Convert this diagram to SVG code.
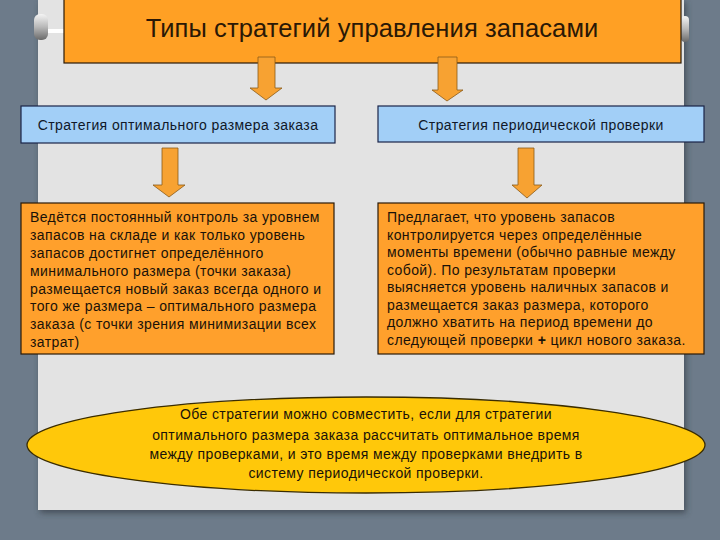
<svg xmlns="http://www.w3.org/2000/svg" width="720" height="540" viewBox="0 0 720 540">
<defs>
<style>
.t{font-family:"Liberation Sans",Arial,sans-serif;fill:#1a1208}
.title{font-size:25.5px;fill:#2a1806;letter-spacing:0.1px}
.hd{font-size:14px;fill:#101828;letter-spacing:0.4px}
.bd{font-size:14px;letter-spacing:0.4px}
.arrow{fill:#f7a232;stroke:#8a5a18;stroke-width:0.8}
.blue{fill:#a2cff7;stroke:#1a2448;stroke-width:1.2}
.orange{fill:#ffa02c;stroke:#2a1a08;stroke-width:1.2}
</style>
<linearGradient id="knob" x1="0" y1="0" x2="0" y2="1">
<stop offset="0" stop-color="#f4f4f4"/>
<stop offset="0.5" stop-color="#b8b8b8"/>
<stop offset="1" stop-color="#6a6a6a"/>
</linearGradient>
<filter id="sh" x="-5%" y="-5%" width="110%" height="110%"><feGaussianBlur stdDeviation="3"/></filter>
</defs>
<rect x="0" y="0" width="720" height="540" fill="#6d7b8a"/>
<rect x="40" y="2" width="646" height="511" fill="#2a3038" opacity="0.6" filter="url(#sh)"/>
<rect x="38" y="0" width="646" height="510" fill="#e3e3e3"/>
<rect x="34" y="14" width="14" height="26" rx="6" fill="url(#knob)"/>
<rect x="48" y="29" width="16" height="4" fill="#ffffff"/>
<rect x="681" y="16" width="8" height="26" rx="4" fill="url(#knob)"/>

<g id="title">
<rect x="64" y="-2" width="617" height="65" fill="#ffa024" stroke="#2a1a08" stroke-width="1.2"/>
<text class="t title" x="372" y="37" text-anchor="middle">Типы стратегий управления запасами</text>
</g>

<g id="connectors">
<polygon class="arrow" points="258,57 275,57 275,88 282,88 266,100 250,88 258,88"/>
<polygon class="arrow" points="438,57 457,57 457,90 463,90 447,101 432,90 438,90"/>
<polygon class="arrow" points="162,148 178,148 178,185 185,185 169,197 153,185 162,185"/>
<polygon class="arrow" points="518,148 534,148 534,185 542,185 527,198 512,185 518,185"/>
</g>

<g id="strategy-eoq">
<rect class="blue" x="21" y="106" width="314" height="37"/>
<text class="t hd" x="178" y="130" text-anchor="middle">Стратегия оптимального размера заказа</text>
</g>

<g id="strategy-periodic">
<rect class="blue" x="378" y="106" width="326" height="36"/>
<text class="t hd" x="541" y="130" text-anchor="middle">Стратегия периодической проверки</text>
</g>

<g id="desc-eoq">
<rect class="orange" x="21" y="203" width="313" height="151"/>
<text class="t bd" x="30" y="222">Ведётся постоянный контроль за уровнем</text>
<text class="t bd" x="30" y="240">запасов на складе и как только уровень</text>
<text class="t bd" x="30" y="258">запасов достигнет определённого</text>
<text class="t bd" x="30" y="276">минимального размера (точки заказа)</text>
<text class="t bd" x="30" y="294">размещается новый заказ всегда одного и</text>
<text class="t bd" x="30" y="311">того же размера – оптимального размера</text>
<text class="t bd" x="30" y="329">заказа (с точки зрения минимизации всех</text>
<text class="t bd" x="30" y="347">затрат)</text>
</g>

<g id="desc-periodic">
<rect class="orange" x="378" y="203" width="326" height="151"/>
<text class="t bd" x="387" y="222">Предлагает, что уровень запасов</text>
<text class="t bd" x="387" y="240">контролируется через определённые</text>
<text class="t bd" x="387" y="257">моменты времени (обычно равные между</text>
<text class="t bd" x="387" y="275">собой). По результатам проверки</text>
<text class="t bd" x="387" y="292">выясняется уровень наличных запасов и</text>
<text class="t bd" x="387" y="310">размещается заказ размера, которого</text>
<text class="t bd" x="387" y="327">должно хватить на период времени до</text>
<text class="t bd" x="387" y="345">следующей проверки <tspan font-weight="bold">+</tspan> цикл нового заказа.</text>
</g>

<g id="combined">
<ellipse cx="366" cy="445" rx="339" ry="48" fill="#ffc80a" stroke="#3a2c00" stroke-width="1.3"/>
<text class="t bd" x="366" y="419" text-anchor="middle">Обе стратегии можно совместить, если для стратегии</text>
<text class="t bd" x="366" y="440" text-anchor="middle">оптимального размера заказа рассчитать оптимальное время</text>
<text class="t bd" x="366" y="459" text-anchor="middle">между проверками, и это время между проверками внедрить в</text>
<text class="t bd" x="366" y="478" text-anchor="middle">систему периодической проверки.</text>
</g>
</svg>
